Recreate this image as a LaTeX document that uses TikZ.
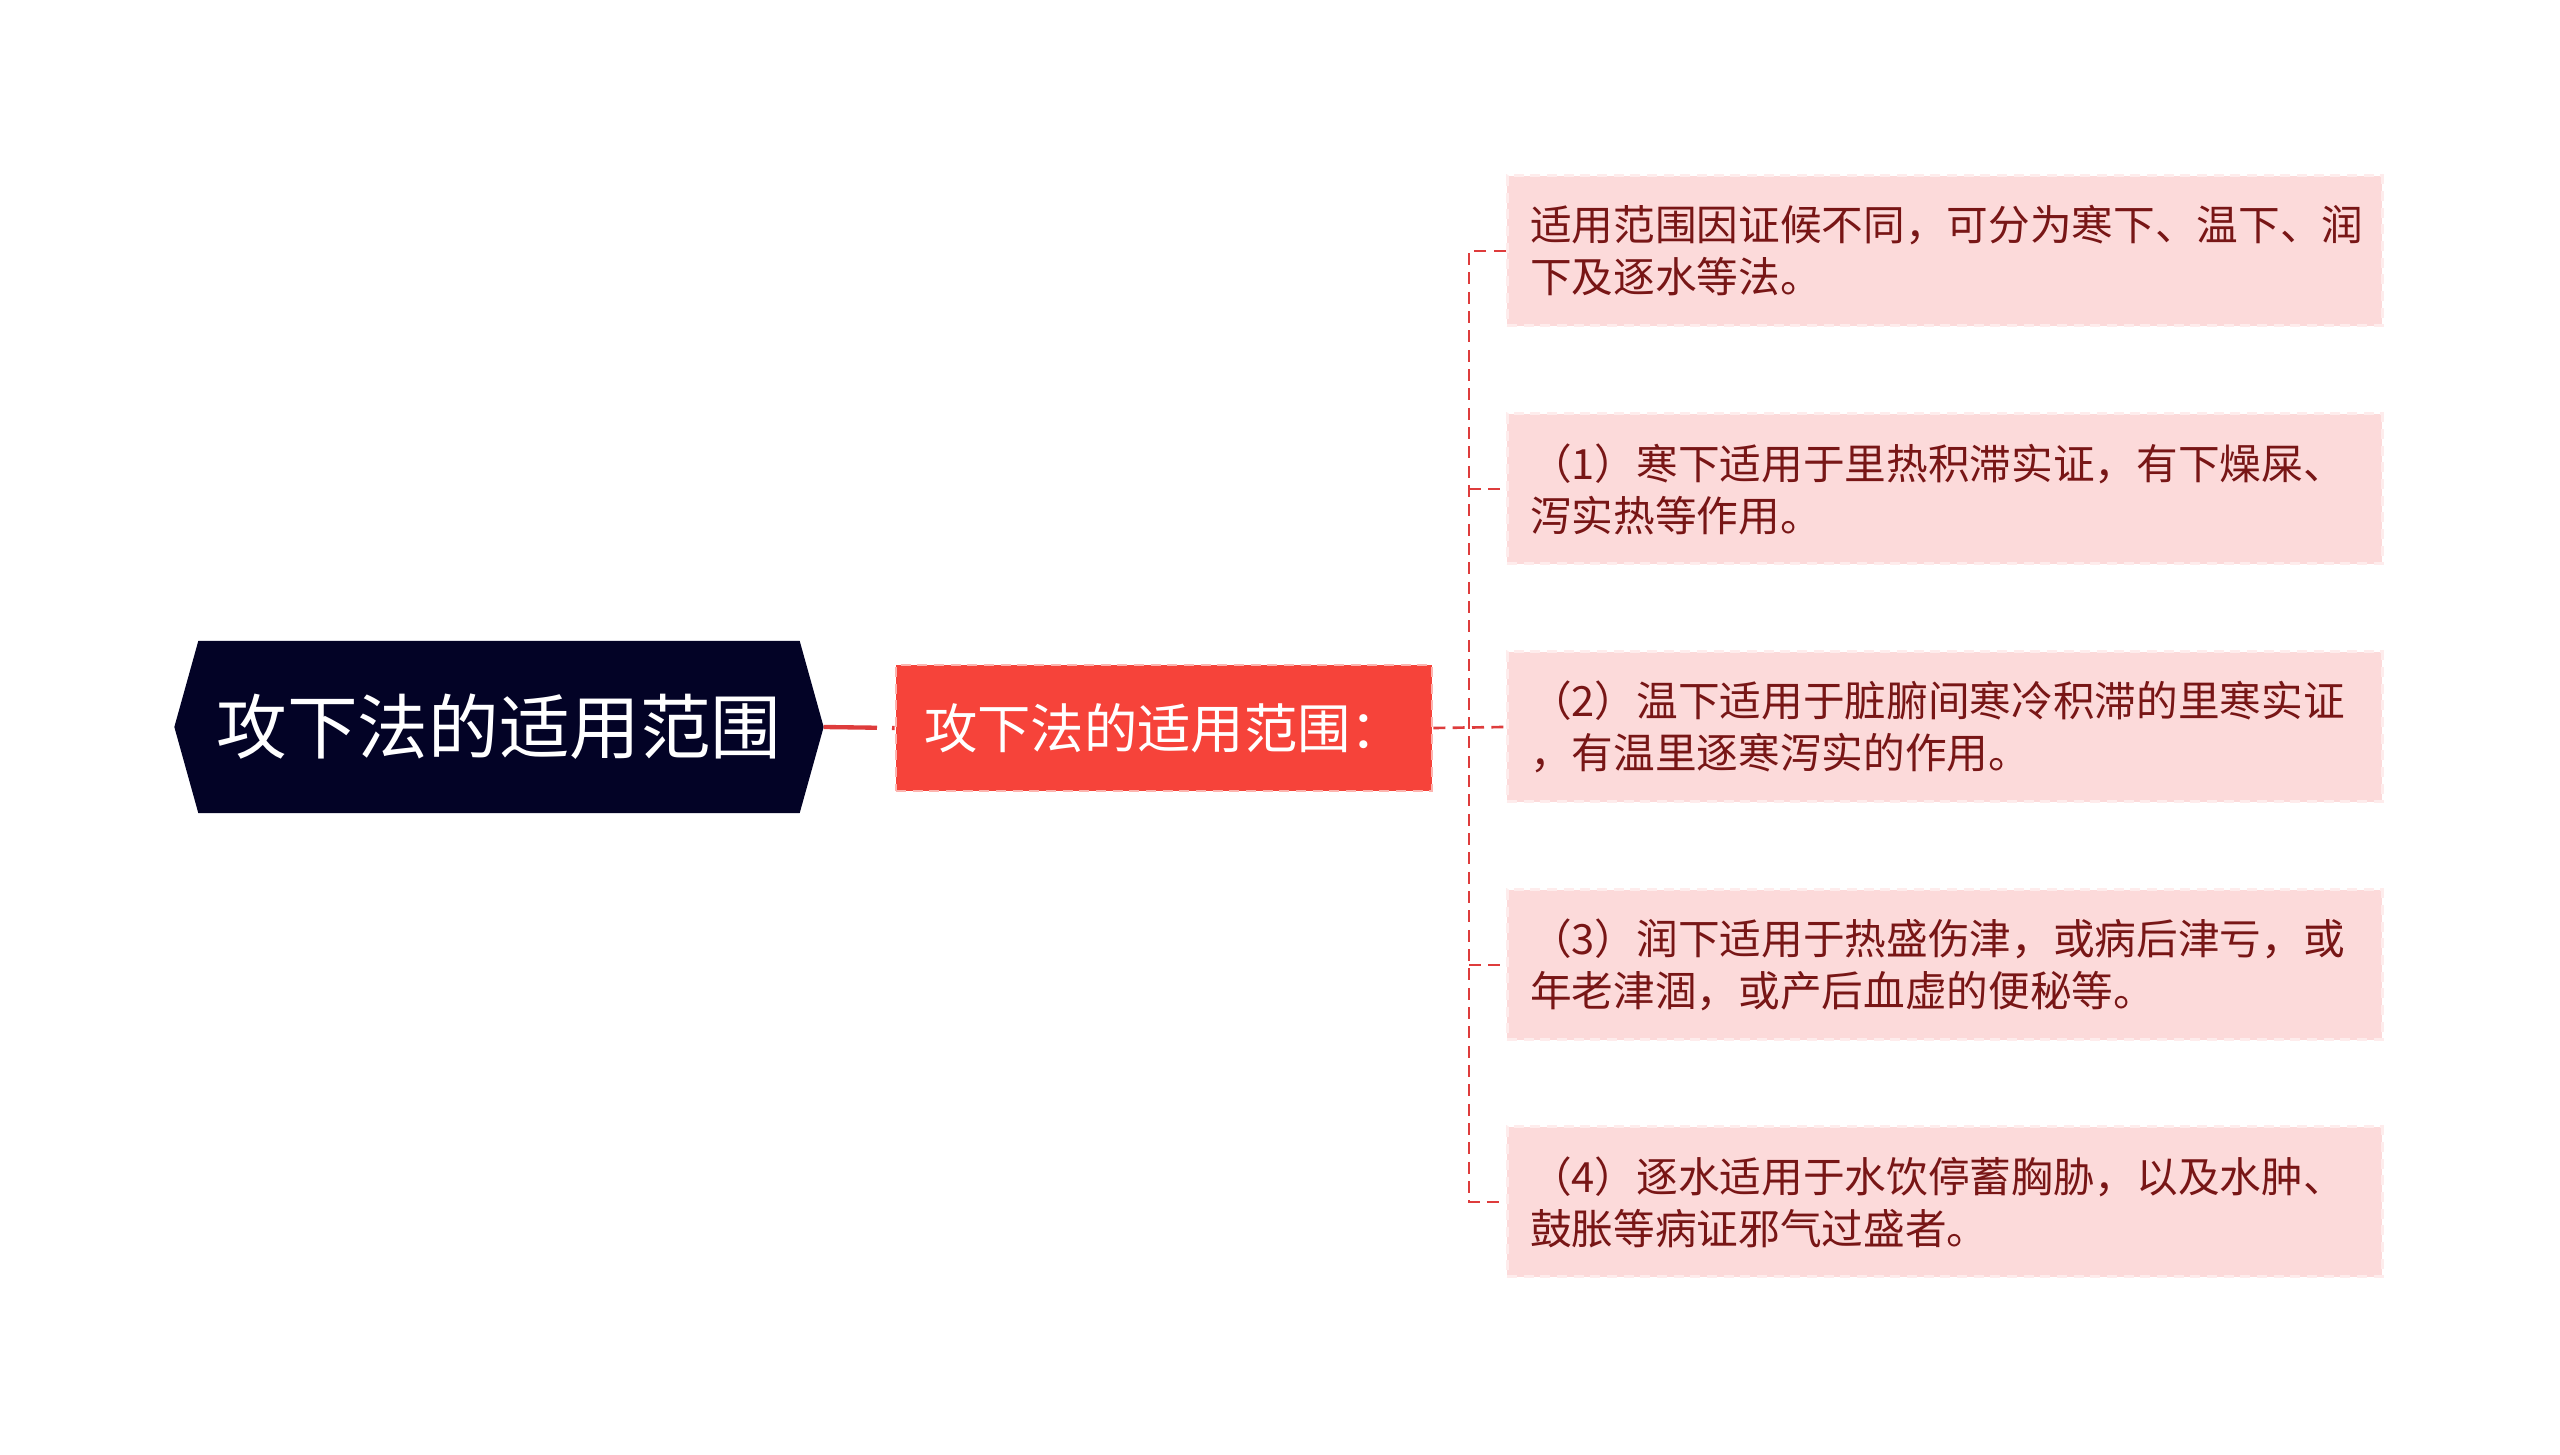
\documentclass[tikz,border=0pt]{standalone}
\usepackage{fontspec}
\setmainfont{Noto Sans CJK SC}
\usetikzlibrary{backgrounds}
\definecolor{rootfill}{RGB}{3,3,38}
\definecolor{midfill}{RGB}{246,67,58}
\definecolor{midborder}{RGB}{252,180,175}
\definecolor{leaffill}{RGB}{252,218,218}
\definecolor{leafborder}{RGB}{254,236,236}
\definecolor{leaftext}{RGB}{120,22,22}
\definecolor{connred}{RGB}{222,60,60}
\tikzset{
  roottext/.style={text=white, font=\fontsize{21.2}{26}\selectfont, minimum width=194.4pt, minimum height=51.3pt, inner sep=0pt},
  midbox/.style={fill=midfill, draw=midborder, dash pattern=on 3pt off 2pt, line width=0.8pt, text=white, font=\fontsize{16}{20}\selectfont, minimum width=160.8pt, minimum height=37.8pt, inner sep=0pt},
  leafbox/.style={fill=leaffill, draw=leafborder, dash pattern=on 3pt off 2pt, line width=0.9pt, text=leaftext, font=\fontsize{12.5}{15.6}\selectfont, text width=248.7pt, inner xsep=6.9pt, inner ysep=0pt, minimum height=45pt, align=left},
  conn/.style={draw=connred, line width=0.8pt, dash pattern=on 3.6pt off 2.2pt},
  rootconn/.style={draw=connred, line width=1.3pt, dash pattern=on 16pt off 4.5pt},
}
\begin{document}
\begin{tikzpicture}[x=0.3pt,y=-0.3pt]
\useasboundingbox (0,0) rectangle (2560,1455);
\node[roottext] (root) at (499,727) {攻下法的适用范围};
\begin{pgfonlayer}{background}
\fill[rootfill] (root.west) -- ([xshift=7.2pt]root.north west) -- ([xshift=-7.2pt]root.north east) -- (root.east) -- ([xshift=-7.2pt]root.south east) -- ([xshift=7.2pt]root.south west) -- cycle;
\end{pgfonlayer}
\node[midbox] (mid) at (1164,728) {攻下法的适用范围：};
\node[leafbox] (l1) at (1944.5,251) {适用范围因证候不同，可分为寒下、温下、润\\下及逐水等法。};
\node[leafbox] (l2) at (1944.5,489) {（1）寒下适用于里热积滞实证，有下燥屎、\\泻实热等作用。};
\node[leafbox] (l3) at (1944.5,727) {（2）温下适用于脏腑间寒冷积滞的里寒实证\\，有温里逐寒泻实的作用。};
\node[leafbox] (l4) at (1944.5,965) {（3）润下适用于热盛伤津，或病后津亏，或\\年老津涸，或产后血虚的便秘等。};
\node[leafbox] (l5) at (1944.5,1202) {（4）逐水适用于水饮停蓄胸胁，以及水肿、\\鼓胀等病证邪气过盛者。};
\coordinate (jn) at (1469,727);
\draw[rootconn] (root.east) -- (mid.west);
\draw[conn] (mid.east) -- (l3.west);
\draw[conn] (l1.west) -- (l1.west -| jn) -- (l5.west -| jn) -- (l5.west);
\draw[conn] (l2.west -| jn) -- (l2.west);
\draw[conn] (l4.west -| jn) -- (l4.west);
\end{tikzpicture}
\end{document}
